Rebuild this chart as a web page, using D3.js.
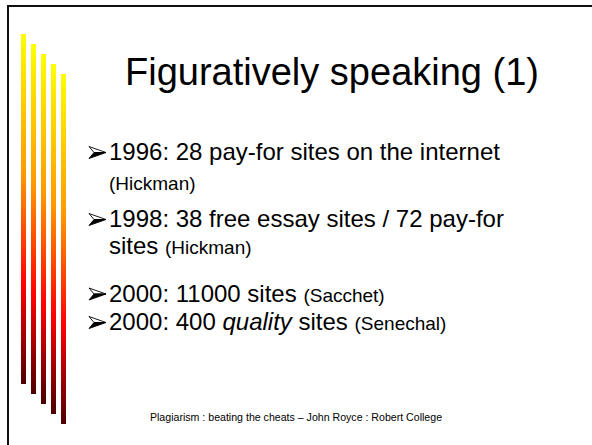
<!DOCTYPE html>
<html>
<head>
<meta charset="utf-8">
<title>Figuratively speaking (1)</title>
<script src="https://d3js.org/d3.v7.min.js"></script>
<style>
  body { margin: 0; background: white; }
  svg { display: block; font-family: Arial, "Liberation Sans", sans-serif; }
</style>
</head>
<body>
<svg id="slide" width="592" height="445"></svg>
<script>
// slide content
let titleText = "Figuratively speaking (1)";
let footerText = "Plagiarism : beating the cheats \u2013 John Royce : Robert College";

// decorative bars on the left, one per step
let barSteps = [0, 1, 2, 3, 4];

// bullet lines: each line is a list of runs, bullet = starts a new point
let lineBullet = [true, false, true, false, true, true];
let lineRuns = [
    [{t: "1996: 28 pay-for sites on the internet", big: true}],
    [{t: "(Hickman)", big: false}],
    [{t: "1998: 38 free essay sites / 72 pay-for", big: true}],
    [{t: "sites ", big: true}, {t: "(Hickman)", big: false}],
    [{t: "2000: 11000 sites ", big: true}, {t: "(Sacchet)", big: false}],
    [{t: "2000: 400 ", big: true}, {t: "quality", big: true, it: true}, {t: " sites ", big: true}, {t: "(Senechal)", big: false}]
];
let lineBaselines = [160, 190, 227, 254, 301.5, 330];

let svg = d3.select("#slide");

// gradient for bars
let defs = svg.append("defs");
let grad = defs.append("linearGradient")
    .attr("id", "barGrad")
    .attr("x1", 0).attr("y1", 0).attr("x2", 0).attr("y2", 1);
[[0, "#ffff00"], [0.4, "#ff9900"], [0.72, "#ff0000"], [1, "#4d0000"]].forEach(function (s) {
    grad.append("stop").attr("offset", s[0]).attr("stop-color", s[1]);
});

// frame: top and left lines only
svg.append("rect").attr("x", 7).attr("y", 5).attr("width", 585).attr("height", 2).attr("fill", "#111");
svg.append("rect").attr("x", 7).attr("y", 5).attr("width", 2).attr("height", 440).attr("fill", "#111");

// bars
let barX = d3.scaleLinear().domain([0, 4]).range([21, 61]);
let barY = d3.scaleLinear().domain([0, 4]).range([34, 74]);
svg.append("g").selectAll("rect")
    .data(barSteps)
    .enter()
    .append("rect")
    .attr("x", d => barX(d))
    .attr("y", d => barY(d))
    .attr("width", 5)
    .attr("height", 350)
    .attr("fill", "url(#barGrad)");

// title
svg.append("text")
    .attr("x", 332)
    .attr("y", 85)
    .attr("text-anchor", "middle")
    .attr("font-size", "38px")
    .attr("fill", "#000")
    .text(titleText);

// bullet lines
let lines = svg.append("g").selectAll("g")
    .data(lineRuns)
    .enter()
    .append("g");

lines.append("text")
    .attr("x", 109)
    .attr("y", (d, i) => lineBaselines[i])
    .attr("fill", "#000")
    .selectAll("tspan")
    .data(d => d)
    .enter()
    .append("tspan")
    .attr("font-size", d => d.big ? "24px" : "19px")
    .attr("font-style", d => d.it ? "italic" : "normal")
    .attr("xml:space", "preserve")
    .text(d => d.t);

// arrowhead bullets (wingdings style)
lines.filter((d, i) => lineBullet[i])
    .each(function (d) {
        let i = lineRuns.indexOf(d);
        let y0 = lineBaselines[i] - 13.5;
        let g = d3.select(this).append("g").attr("transform", "translate(89," + y0 + ")");
        g.append("path")
            .attr("d", "M0,0 L17,6 L5,6 Z")
            .attr("fill", "white")
            .attr("stroke", "#000")
            .attr("stroke-width", 0.9)
            .attr("stroke-linejoin", "round");
        g.append("path")
            .attr("d", "M5,6 L17,6 L0,12 Z")
            .attr("fill", "#000")
            .attr("stroke", "#000")
            .attr("stroke-width", 0.9)
            .attr("stroke-linejoin", "round");
    });

// footer
svg.append("text")
    .attr("x", 296)
    .attr("y", 421)
    .attr("text-anchor", "middle")
    .attr("font-size", "10.6px")
    .attr("fill", "#000")
    .text(footerText);
</script>
</body>
</html>
